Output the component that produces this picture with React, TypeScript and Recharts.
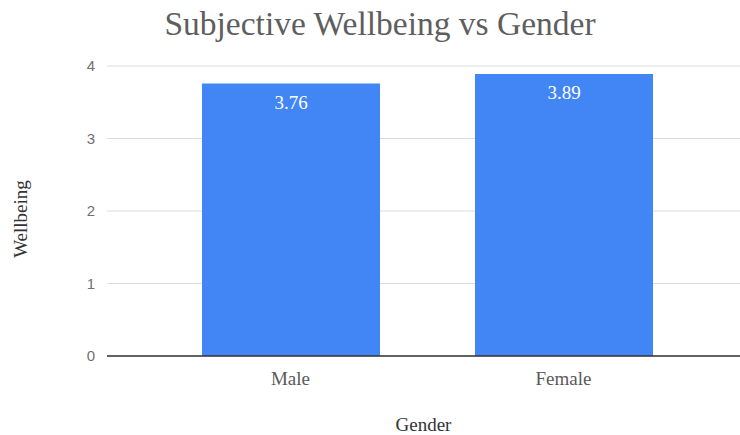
import { BarChart, Bar, XAxis, YAxis, CartesianGrid, LabelList, ReferenceLine } from 'recharts';

const genders = ['Male', 'Female'];
const wellbeing = [3.76, 3.89];
const yTicks = [0, 1, 2, 3, 4];

const data = genders.map((g, i) => ({ gender: g, wellbeing: wellbeing[i] }));

const serif = '"Liberation Serif", serif';

export default function App() {
    return (
        <div style={{ position: 'absolute', left: 0, top: 0, width: 740, height: 435, background: '#fff' }}>
            <div style={{
                position: 'absolute', left: 0, top: 4, width: 760, textAlign: 'center',
                fontFamily: serif, fontSize: 33.5, color: '#5e5e5e', lineHeight: '40px'
            }}>
                Subjective Wellbeing vs Gender
            </div>
            {/* rotated y-axis title, kept outside the svg so it can sit a bit below centre */}
            <div style={{
                position: 'absolute', left: 21, top: 219, width: 0, height: 0,
                overflow: 'visible', zIndex: 1
            }}>
                <div style={{
                    position: 'absolute', left: -60, top: -12, width: 120, height: 24,
                    textAlign: 'center', lineHeight: '24px', transform: 'rotate(-90deg)',
                    fontFamily: serif, fontSize: 19, color: '#333', whiteSpace: 'nowrap'
                }}>
                    Wellbeing
                </div>
            </div>
            <BarChart
                width={740}
                height={435}
                data={data}
                margin={{ top: 66, right: 0, bottom: 0, left: 45 }}
                barSize={178}
            >
                <CartesianGrid vertical={false} stroke="#dcdcdc" />
                <XAxis
                    dataKey="gender"
                    padding={{ left: 47, right: 40 }}
                    axisLine={false}
                    tickLine={false}
                    tick={{ fontSize: 19, fill: '#5a5a5a', fontFamily: serif }}
                    tickMargin={10}
                    height={79}
                    label={{ value: 'Gender', position: 'insideBottom', offset: 0, dy: -4, fill: '#333', fontSize: 19, fontFamily: serif }}
                />
                <YAxis
                    width={62}
                    domain={[0, 4]}
                    ticks={yTicks}
                    axisLine={false}
                    tickLine={false}
                    tickMargin={6}
                    tick={{ fontSize: 15, fill: '#707070', fontFamily: '"Liberation Sans", sans-serif' }}
                />
                <Bar dataKey="wellbeing" fill="#4285f4" isAnimationActive={false}>
                    <LabelList
                        dataKey="wellbeing"
                        position="insideTop"
                        offset={12}
                        fill="#fff"
                        fontSize={19}
                        fontFamily={serif}
                        formatter={(v: any) => Number(v).toFixed(2)}
                    />
                </Bar>
                <ReferenceLine y={0} stroke="#333" strokeWidth={1.5} />
            </BarChart>
        </div>
    );
}
